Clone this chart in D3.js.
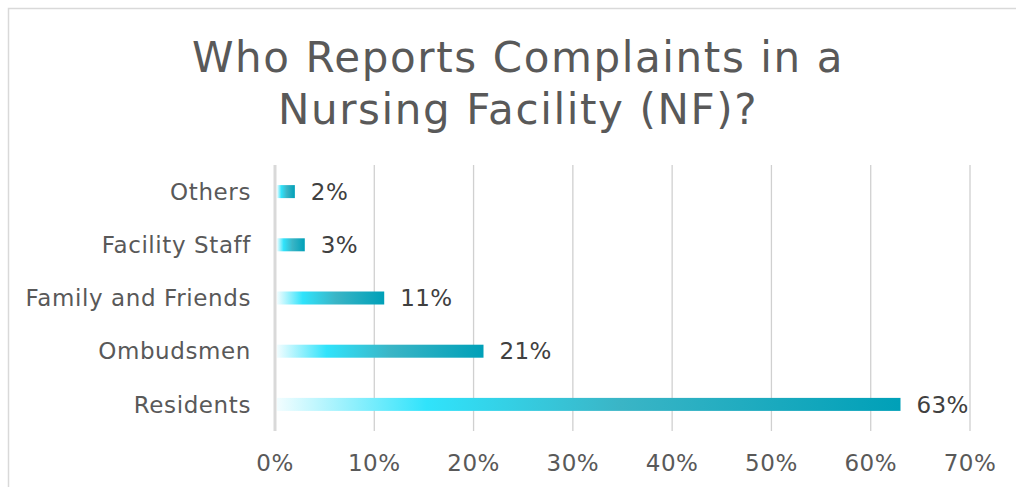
<!DOCTYPE html>
<html>
<head>
<meta charset="utf-8">
<script src="https://cdn.jsdelivr.net/npm/d3@7"></script>
<style>
  body { margin: 0; background: #fff; }
  svg { display: block; font-family: "DejaVu Sans", Verdana, sans-serif; }
</style>
</head>
<body>
<div id="chart"></div>
<script>
// chart data
const categories = ['Others', 'Facility Staff', 'Family and Friends', 'Ombudsmen', 'Residents'];
const shares = [2, 3, 11, 21, 63];
const ticks = [0, 10, 20, 30, 40, 50, 60, 70];
const titleLines = ['Who Reports Complaints in a', 'Nursing Facility (NF)?'];

const width = 1016, height = 487;
const margin = { top: 165, left: 275 };

const svg = d3.select('#chart').append('svg')
    .attr('width', width)
    .attr('height', height);

// chart border (right edge runs off the picture)
svg.append('path')
    .attr('d', `M${width + 2},8.5 H8.5 V${height + 2}`)
    .attr('fill', 'none')
    .attr('stroke', '#d9d9d9')
    .attr('stroke-width', 1.5);

// bar gradient
const grad = svg.append('defs').append('linearGradient')
    .attr('id', 'barGrad')
    .attr('x1', 0).attr('x2', 1).attr('y1', 0).attr('y2', 0);
grad.append('stop').attr('offset', '0%').attr('stop-color', '#f2fdff');
grad.append('stop').attr('offset', '24%').attr('stop-color', '#30e3fb');
grad.append('stop').attr('offset', '55%').attr('stop-color', '#3ab5c6');
grad.append('stop').attr('offset', '100%').attr('stop-color', '#00a0b8');

// title
svg.append('text')
    .attr('x', 518)
    .attr('y', 72)
    .attr('text-anchor', 'middle')
    .attr('fill', '#595959')
    .attr('font-size', 42)
    .attr('letter-spacing', 1.6)
    .selectAll('tspan')
    .data(titleLines)
    .join('tspan')
    .attr('x', 518)
    .attr('dy', (d, i) => i === 0 ? 0 : 52)
    .text(d => d);

const x = d3.scaleLinear().domain([0, 70]).range([0, 695]);
const y = d3.scaleBand().domain(categories).range([0, 266]).paddingInner(0.76).paddingOuter(0.38);

const g = svg.append('g').attr('transform', `translate(${margin.left},${margin.top})`);

// gridlines
g.selectAll('.grid')
    .data(ticks.slice(1))
    .join('line')
    .attr('class', 'grid')
    .attr('x1', d => x(d)).attr('x2', d => x(d))
    .attr('y1', 0).attr('y2', 266)
    .attr('stroke', '#d0d0d0')
    .attr('stroke-width', 1.3);

// x tick labels
g.selectAll('.tick-label')
    .data(ticks)
    .join('text')
    .attr('class', 'tick-label')
    .attr('x', d => x(d))
    .attr('y', 306)
    .attr('text-anchor', 'middle')
    .attr('fill', '#595959')
    .attr('font-size', 23)
    .attr('letter-spacing', 0.5)
    .text(d => d + '%');

// bars
const rows = categories.map((c, i) => ({ cat: c, val: shares[i] }));

g.selectAll('.bar')
    .data(rows)
    .join('rect')
    .attr('class', 'bar')
    .attr('x', x(0) + 2)
    .attr('y', d => y(d.cat) + y.bandwidth() / 2 - 6.5)
    .attr('width', d => x(d.val) - 2)
    .attr('height', 13)
    .attr('fill', 'url(#barGrad)');

// vertical axis line
g.append('line')
    .attr('x1', 0).attr('x2', 0)
    .attr('y1', 0).attr('y2', 266)
    .attr('stroke', '#d9d9d9')
    .attr('stroke-width', 3);

// category labels
g.selectAll('.cat-label')
    .data(rows)
    .join('text')
    .attr('class', 'cat-label')
    .attr('x', -24)
    .attr('y', d => y(d.cat) + y.bandwidth() / 2)
    .attr('dy', '0.36em')
    .attr('text-anchor', 'end')
    .attr('fill', '#595959')
    .attr('font-size', 23)
    .attr('letter-spacing', 0.6)
    .text(d => d.cat);

// value labels
g.selectAll('.val-label')
    .data(rows)
    .join('text')
    .attr('class', 'val-label')
    .attr('x', d => x(d.val) + 16)
    .attr('y', d => y(d.cat) + y.bandwidth() / 2)
    .attr('dy', '0.36em')
    .attr('fill', '#404040')
    .attr('font-size', 23)
    .attr('letter-spacing', 0.4)
    .text(d => d.val + '%');
</script>
</body>
</html>
